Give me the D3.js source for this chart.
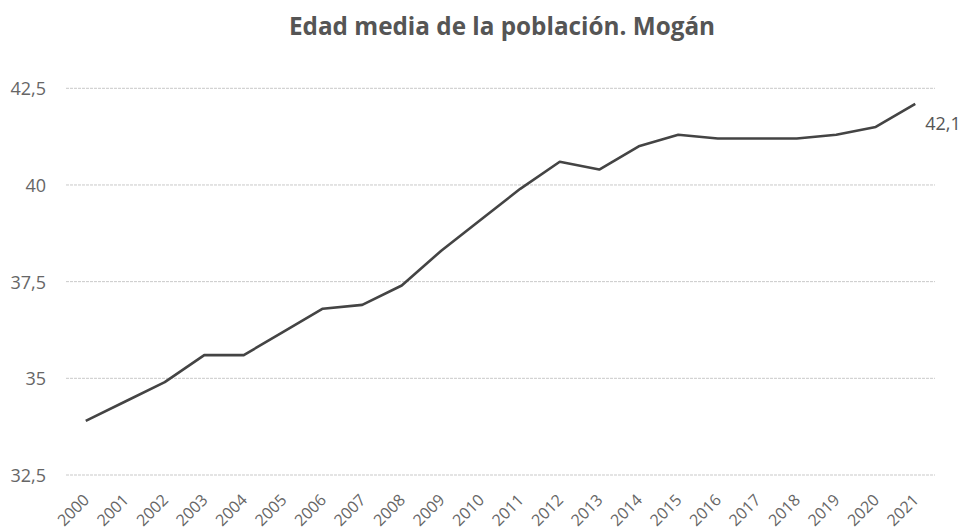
<!DOCTYPE html>
<html>
<head>
<meta charset="utf-8">
<script src="https://cdn.jsdelivr.net/npm/d3@7"></script>
<style>
  html, body { margin: 0; padding: 0; background: #fff; }
  svg { display: block; font-family: "Open Sans", sans-serif; }
</style>
</head>
<body>
<svg id="chart" width="960" height="529"></svg>
<script>
// Mean age of the population, Mogán, 2000–2021
const years = ["2000","2001","2002","2003","2004","2005","2006","2007","2008","2009","2010",
               "2011","2012","2013","2014","2015","2016","2017","2018","2019","2020","2021"];
const meanAge = [33.9, 34.4, 34.9, 35.6, 35.6, 36.2, 36.8, 36.9, 37.4, 38.3, 39.1,
                 39.9, 40.6, 40.4, 41.0, 41.3, 41.2, 41.2, 41.2, 41.3, 41.5, 42.1];
const yTicks = [32.5, 35, 37.5, 40, 42.5];
const title = "Edad media de la población. Mogán";

const svg = d3.select("#chart");
const plotLeft = 66, plotRight = 935, plotTop = 88.3, plotBottom = 475;

const x = d3.scalePoint().domain(years).range([plotLeft, plotRight]).padding(0.5);
const y = d3.scaleLinear().domain([32.5, 42.5]).range([plotBottom, plotTop]);

const fmt = v => String(v).replace(".", ",");

// Title
svg.append("text")
  .attr("x", 502).attr("y", 35)
  .attr("text-anchor", "middle")
  .attr("font-size", 24.3)
  .attr("font-weight", 700)
  .attr("fill", "#555")
  .text(title);

// Horizontal gridlines
svg.append("g").selectAll("line").data(yTicks).join("line")
  .attr("x1", plotLeft).attr("x2", plotRight)
  .attr("y1", d => y(d)).attr("y2", d => y(d))
  .attr("stroke", "#c9c9c9").attr("stroke-width", 1)
  .attr("stroke-dasharray", "3,1");

// Y axis labels
const yAxis = d3.axisLeft(y).tickValues(yTicks).tickFormat(fmt).tickSize(0).tickPadding(0);
const yg = svg.append("g").attr("transform", "translate(46,0)").call(yAxis);
yg.select(".domain").remove();
yg.selectAll("text")
  .attr("font-family", "'Open Sans', sans-serif")
  .attr("font-size", 18).attr("fill", "#666")
  .attr("dy", "0.36em");

// X axis labels, rotated
const xAxis = d3.axisBottom(x).tickSize(0).tickPadding(0);
const xg = svg.append("g").attr("transform", `translate(0,${plotBottom})`).call(xAxis);
xg.select(".domain").remove();
xg.selectAll("text")
  .attr("font-family", "'Open Sans', sans-serif")
  .attr("font-size", 16).attr("fill", "#666")
  .attr("text-anchor", "end")
  .attr("dy", null).attr("y", 0)
  .attr("transform", "translate(4,26) rotate(-45)");

// Data line
const line = d3.line().x((d, i) => x(years[i])).y(d => y(d));
svg.append("path")
  .datum(meanAge)
  .attr("d", line)
  .attr("fill", "none")
  .attr("stroke", "#444")
  .attr("stroke-width", 2.6)
  .attr("stroke-linejoin", "round");

// Last value label
const lastI = meanAge.length - 1;
svg.append("text")
  .attr("x", x(years[lastI]) + 10)
  .attr("y", y(meanAge[lastI]) + 26)
  .attr("font-size", 18).attr("fill", "#555")
  .text(fmt(meanAge[lastI]));
</script>
</body>
</html>
